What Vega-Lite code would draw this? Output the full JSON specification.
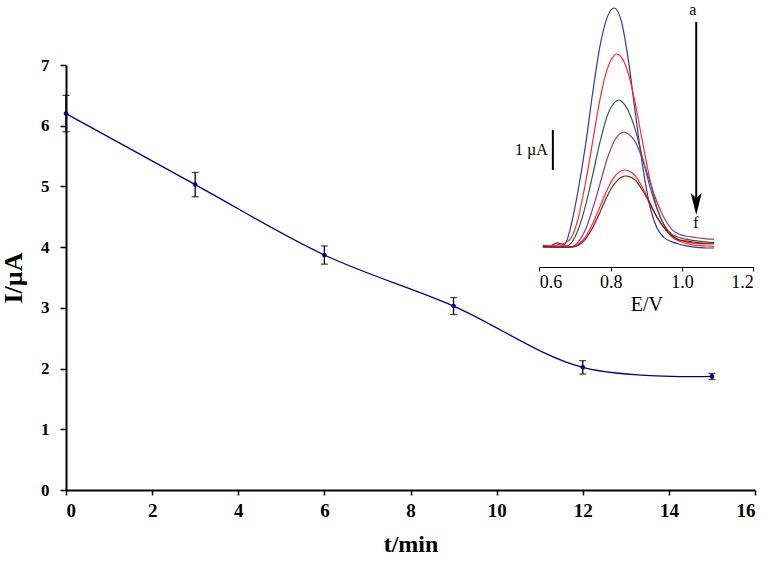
{
  "$schema": "https://vega.github.io/schema/vega-lite/v6.json",
  "width": 689,
  "height": 425,
  "autosize": {"type": "none"},
  "padding": {"left": 66, "top": 65, "right": 12, "bottom": 75},
  "background": "white",
  "config": {
    "view": {"stroke": null},
    "font": "Liberation Serif",
    "axis": {"grid": false, "domainColor": "black", "tickColor": "black", "labelColor": "black", "titleColor": "black", "labelFont": "Liberation Serif", "titleFont": "Liberation Serif"}
  },
  "datasets": {
    "main": [
      {"t": 0, "I": 6.2, "lo": 5.9, "hi": 6.5},
      {"t": 3, "I": 5.03, "lo": 4.83, "hi": 5.23},
      {"t": 6, "I": 3.87, "lo": 3.72, "hi": 4.02},
      {"t": 9, "I": 3.03, "lo": 2.89, "hi": 3.17},
      {"t": 12, "I": 2.02, "lo": 1.91, "hi": 2.13},
      {"t": 15, "I": 1.87, "lo": 1.82, "hi": 1.92}
    ],
    "cv": [
      {"curve": "a", "E": 0.61, "i": 0.03}, {"curve": "a", "E": 0.63, "i": 0.05}, {"curve": "a", "E": 0.65, "i": 0.13}, {"curve": "a", "E": 0.67, "i": 0.08}, {"curve": "a", "E": 0.69, "i": 0.6}, {"curve": "a", "E": 0.71, "i": 1.5}, {"curve": "a", "E": 0.73, "i": 2.6}, {"curve": "a", "E": 0.75, "i": 3.9}, {"curve": "a", "E": 0.77, "i": 5.04}, {"curve": "a", "E": 0.79, "i": 5.76}, {"curve": "a", "E": 0.81, "i": 6.0}, {"curve": "a", "E": 0.83, "i": 5.67}, {"curve": "a", "E": 0.85, "i": 4.68}, {"curve": "a", "E": 0.87, "i": 3.32}, {"curve": "a", "E": 0.89, "i": 2.03}, {"curve": "a", "E": 0.91, "i": 1.05}, {"curve": "a", "E": 0.93, "i": 0.5}, {"curve": "a", "E": 0.95, "i": 0.26}, {"curve": "a", "E": 0.97, "i": 0.16}, {"curve": "a", "E": 0.99, "i": 0.1}, {"curve": "a", "E": 1.01, "i": 0.06}, {"curve": "a", "E": 1.03, "i": 0.03}, {"curve": "a", "E": 1.05, "i": 0.01}, {"curve": "a", "E": 1.07, "i": 0.0}, {"curve": "a", "E": 1.09, "i": 0.0},
      {"curve": "b", "E": 0.61, "i": 0.07}, {"curve": "b", "E": 0.63, "i": 0.05}, {"curve": "b", "E": 0.65, "i": 0.08}, {"curve": "b", "E": 0.67, "i": 0.12}, {"curve": "b", "E": 0.69, "i": 0.26}, {"curve": "b", "E": 0.71, "i": 0.78}, {"curve": "b", "E": 0.73, "i": 1.65}, {"curve": "b", "E": 0.75, "i": 2.68}, {"curve": "b", "E": 0.77, "i": 3.71}, {"curve": "b", "E": 0.79, "i": 4.46}, {"curve": "b", "E": 0.81, "i": 4.81}, {"curve": "b", "E": 0.818, "i": 4.85}, {"curve": "b", "E": 0.83, "i": 4.77}, {"curve": "b", "E": 0.85, "i": 4.35}, {"curve": "b", "E": 0.87, "i": 3.57}, {"curve": "b", "E": 0.89, "i": 2.62}, {"curve": "b", "E": 0.91, "i": 1.72}, {"curve": "b", "E": 0.93, "i": 1.01}, {"curve": "b", "E": 0.95, "i": 0.56}, {"curve": "b", "E": 0.97, "i": 0.29}, {"curve": "b", "E": 0.99, "i": 0.18}, {"curve": "b", "E": 1.01, "i": 0.12}, {"curve": "b", "E": 1.03, "i": 0.08}, {"curve": "b", "E": 1.05, "i": 0.06}, {"curve": "b", "E": 1.07, "i": 0.05}, {"curve": "b", "E": 1.09, "i": 0.04},
      {"curve": "c", "E": 0.61, "i": 0.03}, {"curve": "c", "E": 0.63, "i": 0.02}, {"curve": "c", "E": 0.65, "i": 0.03}, {"curve": "c", "E": 0.67, "i": 0.03}, {"curve": "c", "E": 0.69, "i": 0.13}, {"curve": "c", "E": 0.71, "i": 0.48}, {"curve": "c", "E": 0.73, "i": 1.07}, {"curve": "c", "E": 0.75, "i": 1.84}, {"curve": "c", "E": 0.77, "i": 2.64}, {"curve": "c", "E": 0.79, "i": 3.29}, {"curve": "c", "E": 0.81, "i": 3.63}, {"curve": "c", "E": 0.823, "i": 3.7}, {"curve": "c", "E": 0.83, "i": 3.67}, {"curve": "c", "E": 0.85, "i": 3.42}, {"curve": "c", "E": 0.87, "i": 2.93}, {"curve": "c", "E": 0.89, "i": 2.24}, {"curve": "c", "E": 0.91, "i": 1.54}, {"curve": "c", "E": 0.93, "i": 0.98}, {"curve": "c", "E": 0.95, "i": 0.58}, {"curve": "c", "E": 0.97, "i": 0.35}, {"curve": "c", "E": 0.99, "i": 0.27}, {"curve": "c", "E": 1.01, "i": 0.22}, {"curve": "c", "E": 1.03, "i": 0.19}, {"curve": "c", "E": 1.05, "i": 0.17}, {"curve": "c", "E": 1.07, "i": 0.15}, {"curve": "c", "E": 1.09, "i": 0.14},
      {"curve": "d", "E": 0.61, "i": 0.03}, {"curve": "d", "E": 0.63, "i": 0.02}, {"curve": "d", "E": 0.65, "i": 0.02}, {"curve": "d", "E": 0.67, "i": 0.02}, {"curve": "d", "E": 0.69, "i": 0.03}, {"curve": "d", "E": 0.71, "i": 0.16}, {"curve": "d", "E": 0.73, "i": 0.47}, {"curve": "d", "E": 0.75, "i": 0.99}, {"curve": "d", "E": 0.77, "i": 1.6}, {"curve": "d", "E": 0.79, "i": 2.22}, {"curve": "d", "E": 0.81, "i": 2.67}, {"curve": "d", "E": 0.83, "i": 2.88}, {"curve": "d", "E": 0.838, "i": 2.9}, {"curve": "d", "E": 0.85, "i": 2.85}, {"curve": "d", "E": 0.87, "i": 2.64}, {"curve": "d", "E": 0.89, "i": 2.2}, {"curve": "d", "E": 0.91, "i": 1.66}, {"curve": "d", "E": 0.93, "i": 1.15}, {"curve": "d", "E": 0.95, "i": 0.75}, {"curve": "d", "E": 0.97, "i": 0.48}, {"curve": "d", "E": 0.99, "i": 0.35}, {"curve": "d", "E": 1.01, "i": 0.3}, {"curve": "d", "E": 1.03, "i": 0.27}, {"curve": "d", "E": 1.05, "i": 0.25}, {"curve": "d", "E": 1.07, "i": 0.23}, {"curve": "d", "E": 1.09, "i": 0.22},
      {"curve": "e", "E": 0.61, "i": 0.06}, {"curve": "e", "E": 0.63, "i": 0.04}, {"curve": "e", "E": 0.65, "i": 0.05}, {"curve": "e", "E": 0.67, "i": 0.06}, {"curve": "e", "E": 0.69, "i": 0.03}, {"curve": "e", "E": 0.71, "i": 0.1}, {"curve": "e", "E": 0.73, "i": 0.28}, {"curve": "e", "E": 0.75, "i": 0.62}, {"curve": "e", "E": 0.77, "i": 1.03}, {"curve": "e", "E": 0.79, "i": 1.45}, {"curve": "e", "E": 0.81, "i": 1.77}, {"curve": "e", "E": 0.83, "i": 1.93}, {"curve": "e", "E": 0.84, "i": 1.95}, {"curve": "e", "E": 0.85, "i": 1.93}, {"curve": "e", "E": 0.87, "i": 1.79}, {"curve": "e", "E": 0.89, "i": 1.5}, {"curve": "e", "E": 0.91, "i": 1.13}, {"curve": "e", "E": 0.93, "i": 0.77}, {"curve": "e", "E": 0.95, "i": 0.5}, {"curve": "e", "E": 0.97, "i": 0.3}, {"curve": "e", "E": 0.99, "i": 0.2}, {"curve": "e", "E": 1.01, "i": 0.16}, {"curve": "e", "E": 1.03, "i": 0.13}, {"curve": "e", "E": 1.05, "i": 0.11}, {"curve": "e", "E": 1.07, "i": 0.1}, {"curve": "e", "E": 1.09, "i": 0.1},
      {"curve": "f", "E": 0.61, "i": 0.04}, {"curve": "f", "E": 0.63, "i": 0.03}, {"curve": "f", "E": 0.65, "i": 0.02}, {"curve": "f", "E": 0.67, "i": 0.02}, {"curve": "f", "E": 0.69, "i": 0.02}, {"curve": "f", "E": 0.71, "i": 0.07}, {"curve": "f", "E": 0.73, "i": 0.23}, {"curve": "f", "E": 0.75, "i": 0.52}, {"curve": "f", "E": 0.77, "i": 0.89}, {"curve": "f", "E": 0.79, "i": 1.29}, {"curve": "f", "E": 0.81, "i": 1.6}, {"curve": "f", "E": 0.83, "i": 1.77}, {"curve": "f", "E": 0.843, "i": 1.8}, {"curve": "f", "E": 0.85, "i": 1.79}, {"curve": "f", "E": 0.87, "i": 1.69}, {"curve": "f", "E": 0.89, "i": 1.43}, {"curve": "f", "E": 0.91, "i": 1.11}, {"curve": "f", "E": 0.93, "i": 0.77}, {"curve": "f", "E": 0.95, "i": 0.51}, {"curve": "f", "E": 0.97, "i": 0.32}, {"curve": "f", "E": 0.99, "i": 0.21}, {"curve": "f", "E": 1.01, "i": 0.18}, {"curve": "f", "E": 1.03, "i": 0.15}, {"curve": "f", "E": 1.05, "i": 0.13}, {"curve": "f", "E": 1.07, "i": 0.12}, {"curve": "f", "E": 1.09, "i": 0.12}
    ]
  },
  "layer": [
    {
      "data": {"name": "main"},
      "layer": [
        {
          "mark": {"type": "line", "color": "#000080", "strokeWidth": 1.3, "interpolate": "catmull-rom"},
          "encoding": {
            "x": {"field": "t", "type": "quantitative", "title": "t/min",
              "scale": {"domain": [0, 16], "nice": false},
              "axis": {"values": [0, 2, 4, 6, 8, 10, 12, 14, 16], "format": "d", "labelFontSize": 19, "labelFontWeight": "bold", "titleFontSize": 24, "titleFontWeight": "bold", "tickSize": 5, "tickWidth": 1.5, "domainWidth": 2, "labelPadding": 6, "titlePadding": 12}},
            "y": {"field": "I", "type": "quantitative", "title": "I/µA",
              "scale": {"domain": [0, 7], "nice": false},
              "axis": {"values": [0, 1, 2, 3, 4, 5, 6, 7], "format": "d", "labelFontSize": 17, "labelFontWeight": "bold", "titleFontSize": 26, "titleFontWeight": "bold", "tickSize": 6, "tickWidth": 1.5, "domainWidth": 2, "labelPadding": 11, "titlePadding": 14}}
          }
        },
        {
          "mark": {"type": "errorbar", "color": "black", "thickness": 1.3, "ticks": {"size": 7, "thickness": 1.3, "color": "black"}},
          "encoding": {
            "x": {"field": "t", "type": "quantitative", "title": "t/min"},
            "y": {"field": "lo", "type": "quantitative", "title": "I/µA"},
            "y2": {"field": "hi"}
          }
        },
        {
          "mark": {"type": "point", "filled": true, "color": "#000080", "size": 22, "opacity": 1},
          "encoding": {
            "x": {"field": "t", "type": "quantitative", "title": "t/min"},
            "y": {"field": "I", "type": "quantitative", "title": "I/µA"}
          }
        }
      ]
    },
    {
      "layer": [
        {
          "data": {"name": "cv"},
          "mark": {"type": "line", "strokeWidth": 1.2, "interpolate": "monotone"},
          "encoding": {
            "x": {"field": "E", "type": "quantitative", "title": "E/V",
              "scale": {"domain": [0.6, 1.2], "range": [473.3, 687.3], "nice": false, "zero": false},
              "axis": {"orient": "bottom", "offset": -223, "values": [0.6, 0.8, 1.0, 1.2], "format": ".1f", "labelFontSize": 18, "labelFontWeight": "normal", "titleFontSize": 20, "titleFontWeight": "normal", "tickSize": 4, "domainWidth": 1.2, "labelPadding": 2, "titlePadding": 3}},
            "y": {"field": "i", "type": "quantitative", "scale": {"domain": [0, 6], "range": [183, -57], "nice": false, "zero": false}, "axis": null},
            "color": {"field": "curve", "type": "nominal", "legend": null,
              "scale": {"domain": ["a", "b", "c", "d", "e", "f"], "range": ["#3535a5", "#ff2a2a", "#2f5e3c", "#8c3a9e", "#ff2a2a", "#7a1a1a"]}}
          }
        },
        {
          "data": {"values": [{"E": 0.638, "i": 1.95, "i2": 2.95}, {"E": 1.04, "i": 1.2, "i2": 5.65}]},
          "mark": {"type": "rule", "color": "black", "strokeWidth": 2},
          "encoding": {
            "x": {"field": "E", "type": "quantitative", "title": "E/V"},
            "y": {"field": "i", "type": "quantitative", "axis": null},
            "y2": {"field": "i2"}
          }
        },
        {
          "data": {"values": [{"E": 1.04, "i": 1.1}]},
          "mark": {"type": "point", "shape": "M0,1 L-0.5,-1 L0,-0.55 L0.5,-1 Z", "size": 484, "filled": true, "color": "black", "opacity": 1},
          "encoding": {
            "x": {"field": "E", "type": "quantitative", "title": "E/V"},
            "y": {"field": "i", "type": "quantitative", "axis": null}
          }
        },
        {
          "data": {"values": [
            {"E": 0.624, "i": 2.45, "label": "1 µA", "al": "right"},
            {"E": 1.0305, "i": 5.95, "label": "a", "al": "center"},
            {"E": 1.039, "i": 0.625, "label": "f", "al": "center"}
          ]},
          "mark": {"type": "text", "font": "Liberation Serif", "fontSize": 16, "color": "black", "baseline": "middle", "align": {"expr": "datum.al"}},
          "encoding": {
            "x": {"field": "E", "type": "quantitative", "title": "E/V"},
            "y": {"field": "i", "type": "quantitative", "axis": null},
            "text": {"field": "label"}
          }
        }
      ]
    }
  ],
  "resolve": {
    "scale": {"x": "independent", "y": "independent", "color": "independent"},
    "axis": {"x": "independent", "y": "independent"}
  }
}
